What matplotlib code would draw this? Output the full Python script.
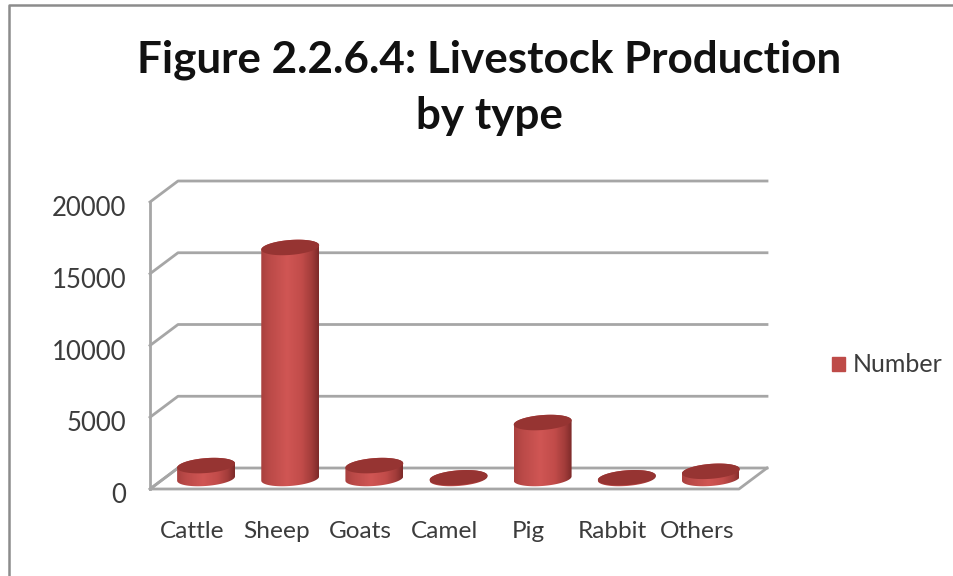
import numpy as np
import matplotlib
matplotlib.use('Agg')
import matplotlib.pyplot as plt
from matplotlib.colors import LinearSegmentedColormap
from matplotlib.lines import Line2D
from matplotlib.patches import Patch, Polygon
from matplotlib.transforms import ScaledTranslation

categories = ['Cattle', 'Sheep', 'Goats', 'Camel', 'Pig', 'Rabbit', 'Others']
number = [900, 16100, 900, 50, 3900, 50, 500]
yticks = [0, 5000, 10000, 15000, 20000]

plt.rcParams['font.family'] = ['Lato', 'DejaVu Sans']
text_col = '#3c3c3c'
grid_col = '#a6a6a6'

fig = plt.figure(figsize=(9.54, 5.76), dpi=100)
# outer chart frame, only left and top show in the picture
fig.add_artist(Line2D([9 / 954, 9 / 954, 1], [0, 1 - 4.5 / 576, 1 - 4.5 / 576], transform=fig.transFigure,
                      color='#8c8c8c', lw=1.8))

ax = fig.add_axes([150 / 954, (576 - 489) / 576, 589 / 954, 287 / 576])
ax.set_xlim(0, 7)
ax.set_ylim(0, 20000)

# depth of the 3d box in data units
dx = 28 / 84.14
dy = 1463

for v in yticks:
    ax.plot([0, dx, 7 + dx], [v, v + dy, v + dy], color=grid_col, lw=2, clip_on=False, zorder=1)
ax.plot([dx, 0, 7, 7 + dx], [dy, 0, 0, dy], color=grid_col, lw=2, clip_on=False, zorder=1)
ax.plot([0, 0], [0, 20000], color=grid_col, lw=2, clip_on=False, zorder=1)

cmap = LinearSegmentedColormap.from_list('cyl', [(0, '#a8403e'), (0.15, '#bb4a48'), (0.45, '#d05654'),
                                                 (0.7, '#c24c4a'), (0.88, '#a23c3a'), (1, '#7c2a29')])
grad = np.linspace(0, 1, 256).reshape(1, -1)

a = 0.344     # radius of the cylinder, x units
b = 520       # short radius of the ellipse, y units
k = 150       # tilt of the ellipse
t = np.linspace(0, np.pi, 60)

for i, val in enumerate(number):
    cx = i + 0.5 + dx / 2
    y0 = dy / 2
    y1 = y0 + val
    low = np.column_stack([cx + a * np.cos(t), y0 - b * np.sin(t) + k * np.cos(t)])
    up = np.column_stack([cx - a * np.cos(t), y1 + b * np.sin(t) - k * np.cos(t)])
    body = Polygon(np.vstack([low, up]), closed=True, transform=ax.transData, facecolor='none', edgecolor='none')
    ax.add_patch(body)
    im = ax.imshow(grad, cmap=cmap, aspect='auto', extent=(cx - a, cx + a, y0 - b - k, y1 + b + k),
                   zorder=3, interpolation='bilinear')
    im.set_clip_path(body)
    tt = np.linspace(0, 2 * np.pi, 120)
    ax.fill(cx + a * np.cos(tt), y1 + b * np.sin(tt) + k * np.cos(tt), color='#963432', zorder=4, clip_on=False, lw=0)

ax.set_xlim(0, 7)
ax.set_ylim(0, 20000)
for s in ax.spines.values():
    s.set_visible(False)
ax.patch.set_visible(False)
ax.set_xticks(np.arange(7) + 0.5)
ax.set_xticklabels(categories, fontsize=17.6, color=text_col)
ax.set_yticks(yticks)
ax.set_yticklabels([str(v) for v in yticks], fontsize=18.5, color=text_col)
ax.tick_params(axis='x', length=0, pad=23)
ax.tick_params(axis='y', length=0, pad=17)
# labels sit a little below their gridline
shift = ScaledTranslation(0, -4 / 100, fig.dpi_scale_trans)
for lab in ax.get_yticklabels():
    lab.set_transform(lab.get_transform() + shift)

fig.text(489 / 954, 1 - 87.5 / 576, 'Figure 2.2.6.4: Livestock Production\nby type', ha='center', va='center',
         fontsize=31.7, fontweight='bold', color='#111111', linespacing=1.5)

fig.legend(handles=[Patch(color='#be4b48', label='Number')], loc='center left',
           bbox_to_anchor=(810 / 954, 1 - 365 / 576), frameon=False, fontsize=18, labelcolor=text_col,
           handlelength=0.5, handleheight=0.5, handletextpad=0.3)

fig.savefig('out.png', dpi=100)
